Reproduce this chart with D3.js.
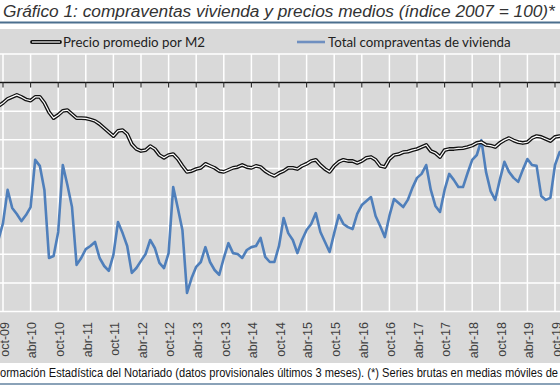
<!DOCTYPE html>
<html>
<head>
<meta charset="utf-8">
<script src="https://cdn.jsdelivr.net/npm/d3@7"></script>
<style>
  body { margin: 0; background: #fff; }
  svg { display: block; }
</style>
</head>
<body>
<svg width="560" height="385"></svg>
<script>
var width = 560;
var height = 385;

// months counted from oct-09 (index 0); series start one month earlier (sep-09)
var firstMonth = -1;

// Precio promedio por M2 (indice 2007 = 100)
var precio = [
  91.8, 92.9, 94.3, 95.0, 95.7, 95.0, 94.1, 93.7, 95.0, 95.0,
  92.9, 89.7, 87.6, 88.7, 90.1, 90.4, 89.0, 87.6, 87.6, 87.5,
  87.1, 86.6, 85.5, 84.1, 82.7, 81.3, 83.1, 83.4, 82.0, 78.5,
  76.8, 76.1, 76.4, 77.8, 76.8, 74.7, 73.7, 74.7, 75.0, 73.3,
  70.9, 68.8, 69.1, 69.8, 70.2, 71.6, 70.9, 70.2, 69.1, 68.8,
  69.5, 70.2, 70.5, 71.2, 70.5, 70.2, 70.9, 70.5, 69.1, 68.1,
  67.4, 68.4, 69.1, 70.2, 70.2, 69.8, 70.9, 71.6, 72.6, 73.0,
  71.2, 69.8, 68.8, 70.9, 72.3, 73.0, 72.6, 72.6, 71.9, 72.6,
  73.7, 74.0, 73.0, 70.9, 70.5, 73.3, 74.7, 75.0, 75.7, 75.9,
  76.4, 76.8, 77.5, 78.2, 76.1, 75.4, 74.0, 76.4, 76.8, 76.8,
  77.0, 77.1, 77.5, 78.0, 78.9, 79.2, 78.2, 78.0, 77.5, 78.9,
  79.9, 80.6, 79.8, 79.2, 78.9, 79.2, 80.6, 81.3, 81.0, 80.3,
  79.6, 81.0, 81.3, 81.3
];

// Total compraventas de vivienda (indice 2007 = 100)
var compraventas = [
  45.0, 50.9, 62.5, 56.2, 54.1, 51.6, 53.7, 56.5, 73.0, 70.9,
  62.5, 38.7, 39.4, 47.8, 71.2, 64.2, 56.5, 36.3, 38.7, 41.8,
  42.9, 44.3, 38.7, 35.9, 34.2, 39.8, 51.3, 47.4, 42.9, 33.5,
  35.2, 37.7, 40.1, 45.0, 42.2, 37.0, 35.2, 40.4, 63.5, 56.2,
  48.5, 26.5, 31.7, 35.6, 37.3, 42.5, 37.3, 34.5, 32.8, 38.7,
  43.9, 40.4, 40.1, 38.7, 41.5, 42.5, 42.9, 45.7, 39.1, 37.3,
  37.3, 42.9, 52.7, 47.4, 45.0, 40.4, 45.0, 48.5, 50.6, 54.4,
  47.8, 44.3, 40.8, 47.4, 53.7, 50.6, 49.5, 48.8, 54.1, 57.2,
  58.6, 60.0, 53.4, 49.9, 46.0, 53.4, 59.3, 57.9, 56.5, 59.0,
  63.2, 66.7, 68.1, 71.2, 62.5, 56.9, 54.8, 62.5, 68.1, 66.0,
  63.5, 63.5, 68.4, 73.0, 74.7, 79.9, 68.8, 62.1, 59.0, 66.0,
  72.3, 68.8, 66.7, 65.3, 69.5, 73.3, 71.2, 70.9, 60.4, 59.0,
  59.7, 71.2, 75.7, 76.4
];

var tickLabels = [
  "oct-09", "abr-10", "oct-10", "abr-11", "oct-11", "abr-12", "oct-12",
  "abr-13", "oct-13", "abr-14", "oct-14", "abr-15", "oct-15", "abr-16",
  "oct-16", "abr-17", "oct-17", "abr-18", "oct-18", "abr-19", "oct-19"
];

var yTicks = [20, 30, 40, 50, 60, 70, 80, 90, 100, 110];

var seriesNames = ["Precio promedio por M2", "Total compraventas de vivienda"];
var blue = "#4f7fbb";

var svg = d3.select("svg");

// plot box
var plot = { t: 54, b: 311.5, l: 3, r: 555 };

var xScale = d3.scaleLinear().domain([0, 120]).range([plot.l, plot.r]);
var yScale = d3.scaleLinear().domain([20, 110]).range([plot.b, plot.t]);

// Title
svg.append("text")
  .attr("x", 3)
  .attr("y", 17)
  .style("font-family", "'Liberation Sans', Arial, sans-serif")
  .style("font-style", "italic")
  .style("font-size", "17.3px")
  .style("fill", "#333")
  .text("Gráfico 1: compraventas vivienda y precios medios (índice 2007 = 100)*");

svg.append("rect")
  .attr("x", 0).attr("y", 21.5)
  .attr("width", width).attr("height", 2)
  .attr("fill", "#4b6f8e");

// chart area background
svg.append("rect")
  .attr("x", 0).attr("y", 29)
  .attr("width", width).attr("height", 334)
  .attr("fill", "#d9d9d9");

// gridlines
svg.append("g")
  .selectAll("line")
  .data(yTicks)
  .enter()
  .append("line")
  .attr("x1", 0).attr("x2", width)
  .attr("y1", d => yScale(d)).attr("y2", d => yScale(d))
  .attr("stroke", "#fff")
  .attr("stroke-width", 1.5);

svg.append("g")
  .selectAll("line")
  .data(tickLabels)
  .enter()
  .append("line")
  .attr("x1", (d, i) => xScale(i * 6)).attr("x2", (d, i) => xScale(i * 6))
  .attr("y1", plot.t).attr("y2", plot.b)
  .attr("stroke", "#fff")
  .attr("stroke-width", 1.5);

// x axis crosses at 100
var axisY = yScale(100);
svg.append("line")
  .attr("x1", 0).attr("x2", width)
  .attr("y1", axisY).attr("y2", axisY)
  .attr("stroke", "#111")
  .attr("stroke-width", 1.5);

svg.append("g")
  .selectAll("line")
  .data(tickLabels)
  .enter()
  .append("line")
  .attr("x1", (d, i) => xScale(i * 6)).attr("x2", (d, i) => xScale(i * 6))
  .attr("y1", axisY).attr("y2", axisY + 5)
  .attr("stroke", "#333")
  .attr("stroke-width", 1.2);

// x labels (rotated, at bottom)
svg.append("g")
  .selectAll("text")
  .data(tickLabels)
  .enter()
  .append("text")
  .attr("transform", (d, i) => "translate(" + (xScale(i * 6) + 1.5) + ",322) rotate(-90)")
  .attr("dy", "0.35em")
  .style("text-anchor", "end")
  .style("font-family", "'Liberation Sans', Arial, sans-serif")
  .style("font-size", "12.5px")
  .style("fill", "#404040")
  .text(d => d);

// lines
var clip = svg.append("clipPath").attr("id", "plotclip")
  .append("rect")
  .attr("x", 0).attr("y", plot.t - 5)
  .attr("width", width).attr("height", plot.b - plot.t + 10);

var line = d3.line()
  .x((d, i) => xScale(i + firstMonth))
  .y(d => yScale(d));

var lines = svg.append("g").attr("clip-path", "url(#plotclip)");

lines.append("path")
  .datum(compraventas)
  .attr("d", line)
  .attr("fill", "none")
  .attr("stroke", blue)
  .attr("stroke-width", 2.6)
  .attr("stroke-linejoin", "round");

lines.append("path")
  .datum(precio)
  .attr("d", line)
  .attr("fill", "none")
  .attr("stroke", "#111")
  .attr("stroke-width", 3.8)
  .attr("stroke-linejoin", "round");

lines.append("path")
  .datum(precio)
  .attr("d", line)
  .attr("fill", "none")
  .attr("stroke", "#fff")
  .attr("stroke-width", 1.2)
  .attr("stroke-linejoin", "round");

// legend
var legend = [
  { name: seriesNames[0], x: 32, double: true },
  { name: seriesNames[1], x: 297, double: false }
];

legend.forEach(function (item) {
  var g = svg.append("g").attr("transform", "translate(" + item.x + ",42)");
  if (item.double) {
    g.append("line").attr("x1", 0).attr("x2", 28).attr("y1", 0).attr("y2", 0)
      .attr("stroke", "#111").attr("stroke-width", 3.8).attr("stroke-linecap", "round");
    g.append("line").attr("x1", 0).attr("x2", 28).attr("y1", 0).attr("y2", 0)
      .attr("stroke", "#fff").attr("stroke-width", 1.2);
  } else {
    g.append("line").attr("x1", 0).attr("x2", 28).attr("y1", 0).attr("y2", 0)
      .attr("stroke", "#6f8fc0").attr("stroke-width", 2.6);
  }
  g.append("text")
    .attr("x", 31)
    .attr("dy", "0.35em")
    .style("font-family", "Lato, sans-serif")
    .style("font-size", "13.3px")
    .style("fill", "#222")
    .text(item.name);
});

// footnote (condensed so it spans the width like the source)
svg.append("text")
  .attr("x", 0)
  .attr("y", 377)
  .attr("textLength", 558)
  .attr("lengthAdjust", "spacingAndGlyphs")
  .style("font-family", "'Liberation Sans', Arial, sans-serif")
  .style("font-size", "12.3px")
  .style("fill", "#111")
  .text("ormación Estadística del Notariado (datos provisionales últimos 3 meses). (*) Series brutas en medias móviles de");

svg.append("rect")
  .attr("x", 0).attr("y", 383)
  .attr("width", width).attr("height", 2)
  .attr("fill", "#8aa2b8");
</script>
</body>
</html>
